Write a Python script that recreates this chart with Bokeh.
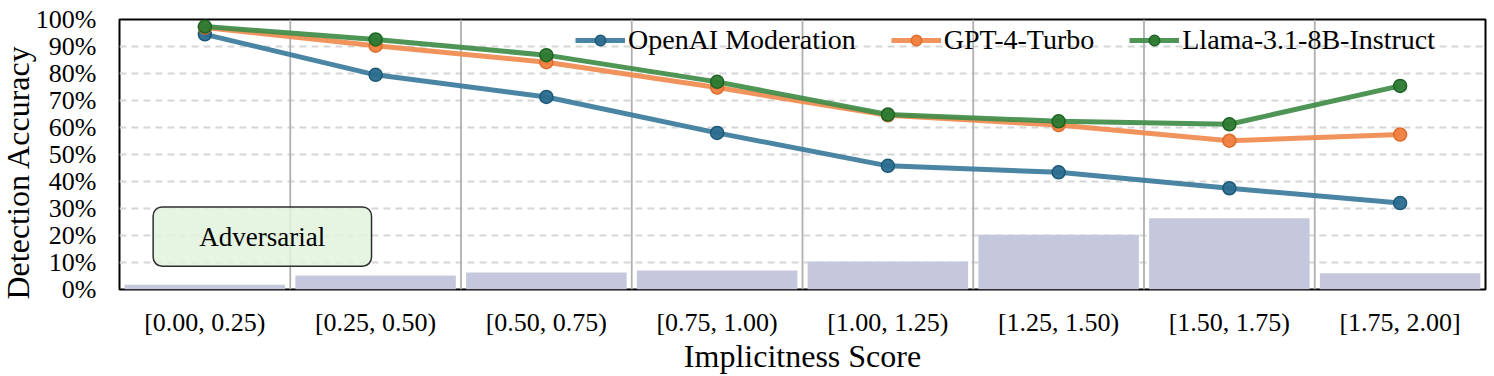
from bokeh.plotting import figure
from bokeh.models import (FactorRange, Range1d, FixedTicker, PrintfTickFormatter,
                          Span, BoxAnnotation, Label, Title)
from bokeh.embed import file_html
from bokeh.resources import INLINE

categories = ["[0.00, 0.25)", "[0.25, 0.50)", "[0.50, 0.75)", "[0.75, 1.00)",
              "[1.00, 1.25)", "[1.25, 1.50)", "[1.50, 1.75)", "[1.75, 2.00]"]
openai_moderation = [94.5, 79.5, 71.3, 58.0, 45.8, 43.4, 37.5, 32.0]
gpt4_turbo = [97.0, 90.3, 84.2, 74.8, 64.5, 60.9, 55.1, 57.4]
llama_8b = [97.4, 92.6, 86.8, 76.9, 64.8, 62.3, 61.2, 75.4]
sample_share = [1.8, 5.2, 6.3, 7.0, 10.4, 20.3, 26.4, 6.0]
y_ticks = [0, 10, 20, 30, 40, 50, 60, 70, 80, 90, 100]
x_title = "Implicitness Score"
y_title = "Detection Accuracy"
annotation_text = "Adversarial"

FONT = "Liberation Serif"

p = figure(width=1494, height=376, output_backend="svg", toolbar_location=None,
           x_range=FactorRange(*categories, range_padding=0),
           y_range=Range1d(0, 100),
           min_border_left=119, min_border_right=9, min_border_top=19,
           min_border_bottom=84)

p.background_fill_color = "white"
p.border_fill_color = "white"
p.outline_line_color = "black"
p.outline_line_width = 2
p.outline_line_alpha = 1

# bars
p.vbar(x=categories, top=sample_share, width=0.94, bottom=0,
       fill_color="#c5c8dc", line_color=None)

# category separators
for i in range(1, len(categories)):
    p.add_layout(Span(location=i, dimension="height", line_color="#b0b0b0",
                      line_width=1.8, level="underlay"))

# annotation box
box = BoxAnnotation(left=0.197, right=1.476, bottom=8.6, top=30.6,
                    fill_color="#e2f3dc", fill_alpha=0.85,
                    line_color="#2e2e2e", line_alpha=1, line_width=1.5,
                    border_radius=9)
p.add_layout(box)
p.add_layout(Label(x=0.836, y=19.6, text=annotation_text, text_font=FONT,
                   text_font_size="27px", text_align="center",
                   text_baseline="middle", text_color="black"))

series = [
    ("OpenAI Moderation", openai_moderation, "#3b7b9b", "#2b6d8f", "#1c5878"),
    ("GPT-4-Turbo", gpt4_turbo, "#ef8a4f", "#f07f3f", "#df6c2c"),
    ("Llama-3.1-8B-Instruct", llama_8b, "#408c48", "#2d7a33", "#1c6424"),
]
for name, vals, lc, mf, me in series:
    p.line(x=categories, y=vals, line_color=lc, line_width=5, line_alpha=0.92,
           legend_label=name)
    p.scatter(x=categories, y=vals, size=13, fill_color=mf, line_color=me,
              line_width=1.5, fill_alpha=0.95, legend_label=name)

# axes
p.yaxis.ticker = FixedTicker(ticks=y_ticks)
p.yaxis.formatter = PrintfTickFormatter(format="%d%%")
for ax in (p.xaxis[0], p.yaxis[0]):
    ax.axis_line_color = None
    ax.major_tick_line_color = None
    ax.minor_tick_line_color = None
    ax.major_tick_out = 0
    ax.major_tick_in = 0
    ax.major_label_text_font = FONT
    ax.major_label_text_font_size = "26px"
    ax.major_label_text_color = "black"
    ax.axis_label_text_font = FONT
    ax.axis_label_text_font_style = "normal"
    ax.axis_label_text_color = "black"

p.xaxis.axis_label = x_title
p.xaxis.axis_label_text_font_size = "32px"
p.xaxis.major_label_standoff = 18
p.xaxis.axis_label_standoff = -2

p.yaxis.major_label_standoff = 23

# y-axis title (slightly below centre, like the original)
p.add_layout(Title(text=y_title, align="left", vertical_align="bottom",
                   offset=-10, standoff=-6,
                   text_font=FONT, text_font_size="32px",
                   text_font_style="normal", text_color="black"), "left")

# grids
p.xgrid.grid_line_color = None
p.ygrid.grid_line_color = "#d6d6d6"
p.ygrid.grid_line_width = 1.8
p.ygrid.grid_line_dash = "7 5"

# legend
lg = p.legend[0]
lg.orientation = "horizontal"
lg.location = (456, 233)
lg.margin = 0
lg.padding = 0
lg.spacing = 35
lg.glyph_width = 50
lg.glyph_height = 26
lg.label_standoff = 3
lg.label_text_font = FONT
lg.label_text_font_size = "28px"
lg.label_text_color = "black"
lg.background_fill_alpha = 0
lg.border_line_alpha = 0

open("out.html", "w").write(file_html(p, INLINE))
